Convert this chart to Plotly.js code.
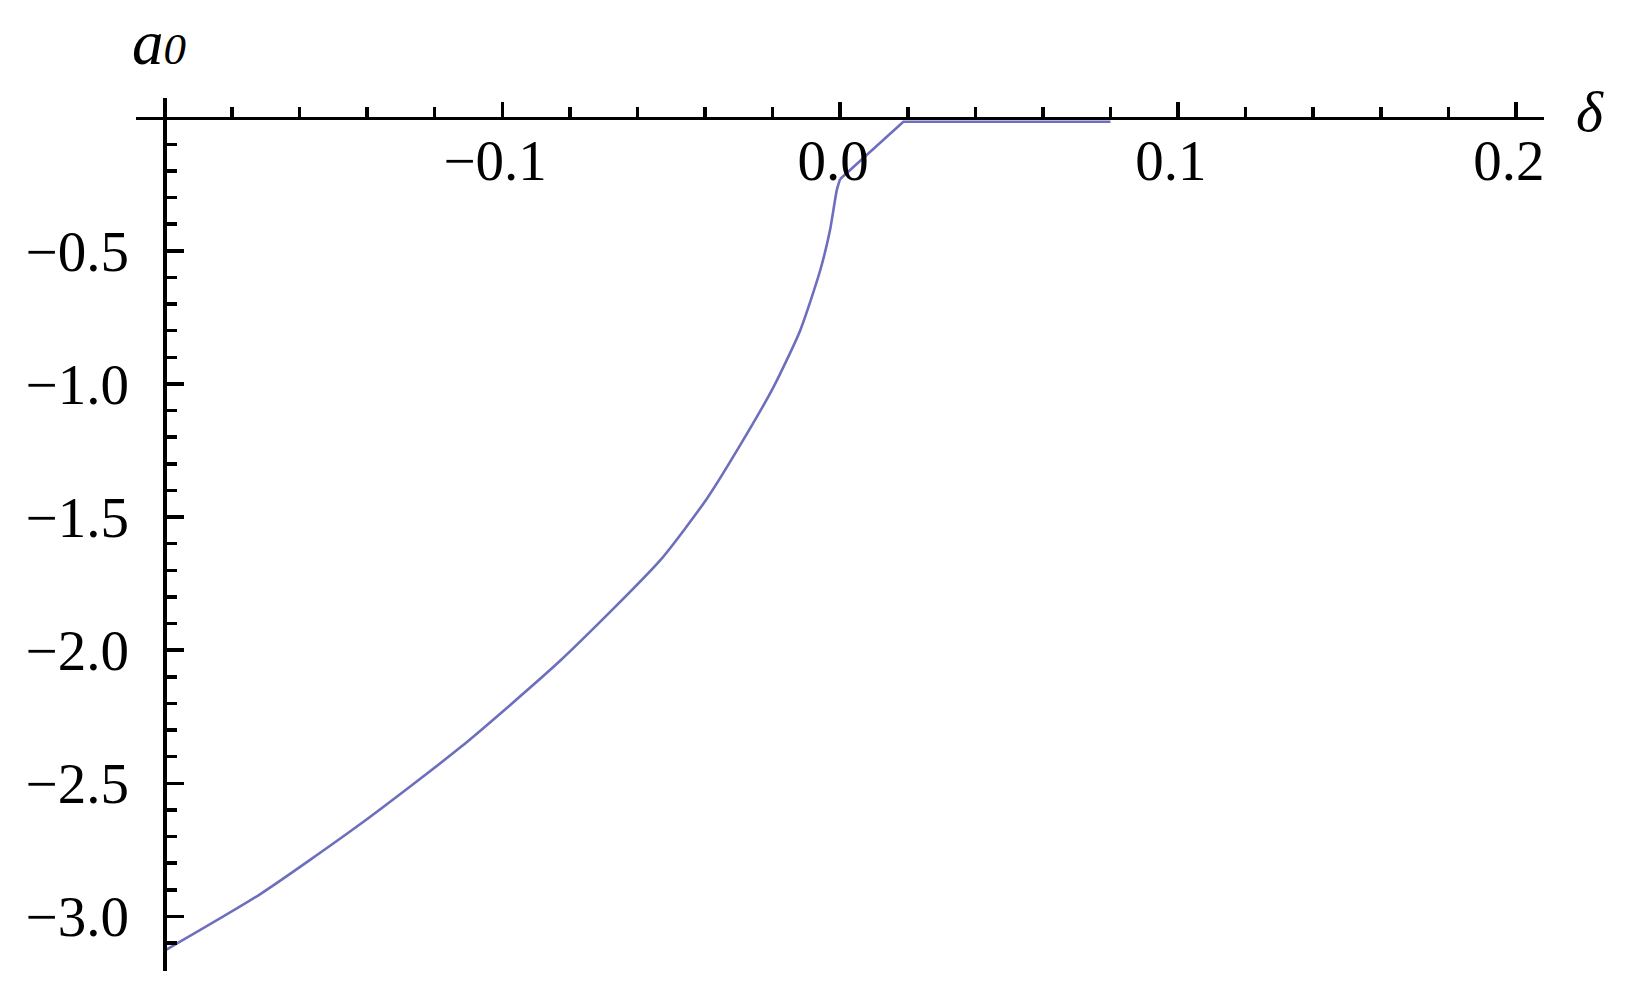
<!DOCTYPE html>
<html lang="en">
<head>
  <meta charset="UTF-8">
  <title>a0 vs delta</title>
  <script src="https://cdn.plot.ly/plotly-3.0.1.min.js"></script>
  <style>
    body { margin: 0; background: white; }
    #plot { width: 1632px; height: 993px; }
  </style>
</head>
<body>
  <div id="plot"></div>
  <script>
    // values
    const delta = [-0.2, -0.1716, -0.142, -0.1124, -0.0828, -0.0533, -0.0394, -0.0296,
                   -0.0197, -0.0118, -0.0059, -0.003, -0.001, 0.0, 0.0187, 0.08];
    const a0 = [-3.129, -2.916, -2.653, -2.365, -2.039, -1.663, -1.43, -1.23,
                -1.011, -0.798, -0.573, -0.422, -0.272, -0.23, -0.015, -0.015];
    const kink = 13; // index where the smooth branch ends

    const xTicks = [-0.1, 0.0, 0.1, 0.2];
    const xTickText = ['\u22120.1', '0.0', '0.1', '0.2'];
    const yTicks = [-0.5, -1.0, -1.5, -2.0, -2.5, -3.0];
    const yTickText = ['\u22120.5', '\u22121.0', '\u22121.5', '\u22122.0', '\u22122.5', '\u22123.0'];

    const xRange = [-0.2084, 0.2083];
    const yRange = [-3.205, 0.074];

    // minor tick positions
    const xMinor = [];
    for (let i = -9; i <= 10; i++) xMinor.push(+(i * 0.02).toFixed(2));
    const yMinor = [];
    for (let i = 1; i <= 31; i++) yMinor.push(+(-i * 0.1).toFixed(1));

    const tickFont = { family: 'Liberation Serif, Times New Roman, serif', size: 57, color: 'black' };
    const lineStyle = { color: 'rgb(110,110,190)', width: 2.6 };

    const traces = [
      {
        x: delta.slice(0, kink + 1),
        y: a0.slice(0, kink + 1),
        mode: 'lines',
        line: Object.assign({ shape: 'spline', smoothing: 0.6 }, lineStyle),
        hoverinfo: 'skip'
      },
      {
        x: delta.slice(kink),
        y: a0.slice(kink),
        mode: 'lines',
        line: lineStyle,
        hoverinfo: 'skip'
      }
    ];

    const layout = {
      width: 1632,
      height: 993,
      margin: { l: 136, r: 88, t: 98, b: 22 },
      paper_bgcolor: 'white',
      plot_bgcolor: 'white',
      showlegend: false,
      xaxis: {
        range: xRange,
        anchor: 'free',
        position: (0 - yRange[0]) / (yRange[1] - yRange[0]),
        side: 'bottom',
        showline: true, linecolor: 'black', linewidth: 3.5,
        showgrid: false, zeroline: false,
        tickmode: 'array', tickvals: xTicks,
        ticktext: xTickText.map(t => t + '\u00a0'),
        ticks: 'inside', ticklen: 15, tickwidth: 3.5, tickcolor: 'black',
        minor: { tickmode: 'array', tickvals: xMinor, ticks: 'inside', ticklen: 10, tickwidth: 3.5, tickcolor: 'black' },
        tickfont: tickFont,
        ticklabelstandoff: -9,
        fixedrange: true
      },
      yaxis: {
        range: yRange,
        anchor: 'free',
        position: (-0.2 - xRange[0]) / (xRange[1] - xRange[0]),
        side: 'left',
        showline: true, linecolor: 'black', linewidth: 3.5,
        showgrid: false, zeroline: false,
        tickmode: 'array', tickvals: yTicks, ticktext: yTickText,
        ticks: 'inside', ticklen: 17, tickwidth: 3.5, tickcolor: 'black',
        minor: { tickmode: 'array', tickvals: yMinor, ticks: 'inside', ticklen: 10, tickwidth: 3.5, tickcolor: 'black' },
        tickfont: tickFont,
        ticklabelstandoff: 23,
        fixedrange: true
      },
      annotations: [
        {
          xref: 'paper', yref: 'paper', x: 0.0163, y: 1.063,
          xanchor: 'center', yanchor: 'middle', showarrow: false,
          text: '<i>a</i><span style="font-size:45px"><i>0</i></span>',
          font: { family: 'Liberation Serif, serif', size: 63, color: 'black' }
        },
        {
          xref: 'paper', yref: 'paper', x: 1.0327, y: 0.984,
          xanchor: 'center', yanchor: 'middle', showarrow: false,
          text: '<i>\u03b4</i>',
          font: { family: 'Liberation Serif, serif', size: 58, color: 'black' }
        }
      ]
    };

    Plotly.newPlot('plot', traces, layout, { displayModeBar: false, staticPlot: true });
  </script>
</body>
</html>
